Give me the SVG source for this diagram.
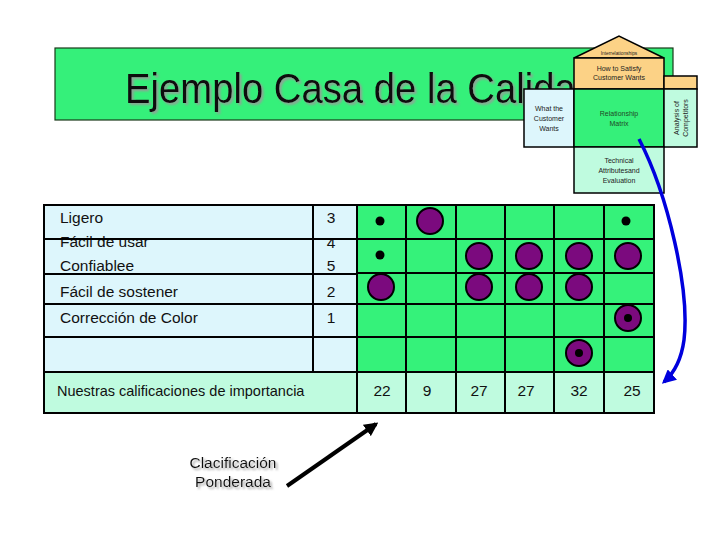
<svg xmlns="http://www.w3.org/2000/svg" width="728" height="546" viewBox="0 0 728 546">
<defs>
<style>
.t{font-family:"Liberation Sans",Arial,sans-serif;fill:#111}
.cell{stroke:#000;stroke-width:2}
.lb{fill:#ddf6fc}
.gr{fill:#35f27a}
.mt{fill:#bffbdf}
.hs{stroke:#000;stroke-width:1.5}
.ht{font-family:"Liberation Sans",Arial,sans-serif;font-size:7px;fill:#222;text-anchor:middle}
.big{fill:#7b0a7e;stroke:#000;stroke-width:2}
.dot{fill:#000}
.num{text-anchor:middle;font-size:15.5px}
</style>
<filter id="sh" x="-5%" y="-20%" width="110%" height="140%">
<feDropShadow dx="2" dy="2" stdDeviation="0.8" flood-color="#9a9a9a" flood-opacity="0.9"/>
</filter>
<clipPath id="tclip">
<path d="M55,48 H574 V89 H524 V120 H55 Z"/>
</clipPath>
<marker id="ab" viewBox="0 0 10 10" refX="8" refY="5" markerWidth="4" markerHeight="4" orient="auto" markerUnits="strokeWidth">
<path d="M0,0 L10,5 L0,10 Z" fill="#0000dd"/>
</marker>
<marker id="ak" viewBox="0 0 10 10" refX="8" refY="5" markerWidth="3.5" markerHeight="3.5" orient="auto" markerUnits="strokeWidth">
<path d="M0,0 L10,5 L0,10 Z" fill="#000"/>
</marker>
</defs>
<rect width="728" height="546" fill="#fff"/>

<g id="title">
<rect x="55" y="48" width="618" height="72" fill="#35f07a" stroke="#1a3a1a" stroke-width="1.2"/>
<g clip-path="url(#tclip)">
<text x="125" y="103" font-family="Liberation Sans,Arial,sans-serif" font-size="43" fill="#0a0a0a" textLength="472" lengthAdjust="spacingAndGlyphs" filter="url(#sh)">Ejemplo Casa de la Calidad</text>
</g>
</g>

<g id="house">
<g id="roof">
<polygon class="hs" points="574,58 619,36 664,58" fill="#fcd286"/>
<text class="ht" x="619" y="54.5" style="font-size:4.8px">Interrelationships</text>
</g>
<g id="how">
<rect class="hs" x="574" y="58" width="90" height="31" fill="#fcd286"/>
<rect class="hs" x="664" y="76" width="33" height="13" fill="#fcd286"/>
<text class="ht" x="619" y="71">How to Satisfy</text>
<text class="ht" x="619" y="80">Customer Wants</text>
</g>
<g id="what">
<rect class="hs" x="524" y="89" width="50" height="58" fill="#ddf6fc"/>
<text class="ht" x="549" y="111">What the</text>
<text class="ht" x="549" y="121">Customer</text>
<text class="ht" x="549" y="131">Wants</text>
</g>
<g id="matrix">
<rect class="hs" x="574" y="89" width="90" height="58" fill="#35f07a"/>
<text class="ht" x="619" y="116" style="fill:#1f4a26">Relationship</text>
<text class="ht" x="619" y="126" style="fill:#1f4a26">Matrix</text>
</g>
<g id="competitors">
<rect class="hs" x="664" y="89" width="33" height="58" fill="#bffbdf"/>
<text class="ht" transform="translate(678.5,118) rotate(-90)">Analysis of</text>
<text class="ht" transform="translate(687.5,118) rotate(-90)">Competitors</text>
</g>
<g id="technical">
<rect class="hs" x="574" y="147" width="90" height="46" fill="#bffbdf"/>
<text class="ht" x="619" y="163">Technical</text>
<text class="ht" x="619" y="173">Attributesand</text>
<text class="ht" x="619" y="183">Evaluation</text>
</g>
</g>

<g id="table">
<g id="left-cells">
<rect class="cell lb" x="44" y="205" width="269" height="167"/>
<rect class="cell lb" x="313" y="205" width="44" height="167"/>
</g>
<g id="matrix-cells">
<rect class="cell gr" x="357" y="205" width="297" height="167"/>
</g>
<g id="score-row">
<rect class="cell mt" x="44" y="372" width="313" height="41"/>
<rect class="cell mt" x="357" y="372" width="297" height="41"/>
</g>
<g id="labels" class="t" font-size="15.5">
<text x="60" y="223">Ligero</text>
<text x="60" y="247">Fácil de usar</text>
<text x="60" y="271">Confiablee</text>
<text x="60" y="297">Fácil de sostener</text>
<text x="60" y="323">Corrección de Color</text>
<text class="num" x="331" y="223">3</text>
<text class="num" x="331" y="248">4</text>
<text class="num" x="331" y="271">5</text>
<text class="num" x="331" y="297">2</text>
<text class="num" x="331" y="323">1</text>
<text x="57" y="396" font-size="14.5">Nuestras calificaciones de importancia</text>
<text class="num" x="382" y="396">22</text>
<text class="num" x="427" y="396">9</text>
<text class="num" x="479" y="396">27</text>
<text class="num" x="526" y="396">27</text>
<text class="num" x="579" y="396">32</text>
<text class="num" x="632" y="396">25</text>
</g>
<g id="grid-lines" class="cell">
<line x1="44" y1="239" x2="654" y2="239"/>
<line x1="44" y1="274" x2="357" y2="274"/>
<line x1="357" y1="273" x2="654" y2="273"/>
<line x1="44" y1="304" x2="654" y2="304"/>
<line x1="44" y1="337" x2="654" y2="337"/>
<line x1="406" y1="205" x2="406" y2="413"/>
<line x1="456" y1="205" x2="456" y2="413"/>
<line x1="505" y1="205" x2="505" y2="413"/>
<line x1="554" y1="205" x2="554" y2="413"/>
<line x1="604" y1="205" x2="604" y2="413"/>
</g>
<g id="symbols">
<circle class="dot" cx="380" cy="221" r="4.5"/>
<circle class="big" cx="430" cy="221" r="13"/>
<circle class="dot" cx="626" cy="221" r="4.5"/>
<circle class="dot" cx="380" cy="255" r="4.5"/>
<circle class="big" cx="479" cy="256" r="13"/>
<circle class="big" cx="529" cy="256" r="13"/>
<circle class="big" cx="579" cy="256" r="13"/>
<circle class="big" cx="628" cy="256" r="13"/>
<circle class="big" cx="381" cy="287" r="13"/>
<circle class="big" cx="479" cy="287" r="13"/>
<circle class="big" cx="529" cy="287" r="13"/>
<circle class="big" cx="579" cy="287" r="13"/>
<circle class="big" cx="628" cy="318" r="13"/>
<circle class="dot" cx="628" cy="318" r="4"/>
<circle class="big" cx="579" cy="353" r="13"/>
<circle class="dot" cx="579" cy="353" r="4"/>
</g>
</g>

<g id="caption" filter="url(#sh)">
<text x="233" y="468" class="t" font-size="15.5" text-anchor="middle" fill="#222">Clacificación</text>
<text x="233" y="487" class="t" font-size="15.5" text-anchor="middle" fill="#222">Ponderada</text>
</g>

<g id="connectors" fill="none">
<path d="M639,139 C668,195 690,290 684,340 C681,362 673,374 664,382" stroke="#0000dd" stroke-width="3.5" marker-end="url(#ab)"/>
<line x1="287" y1="486" x2="376" y2="424" stroke="#000" stroke-width="4" marker-end="url(#ak)"/>
</g>
</svg>
